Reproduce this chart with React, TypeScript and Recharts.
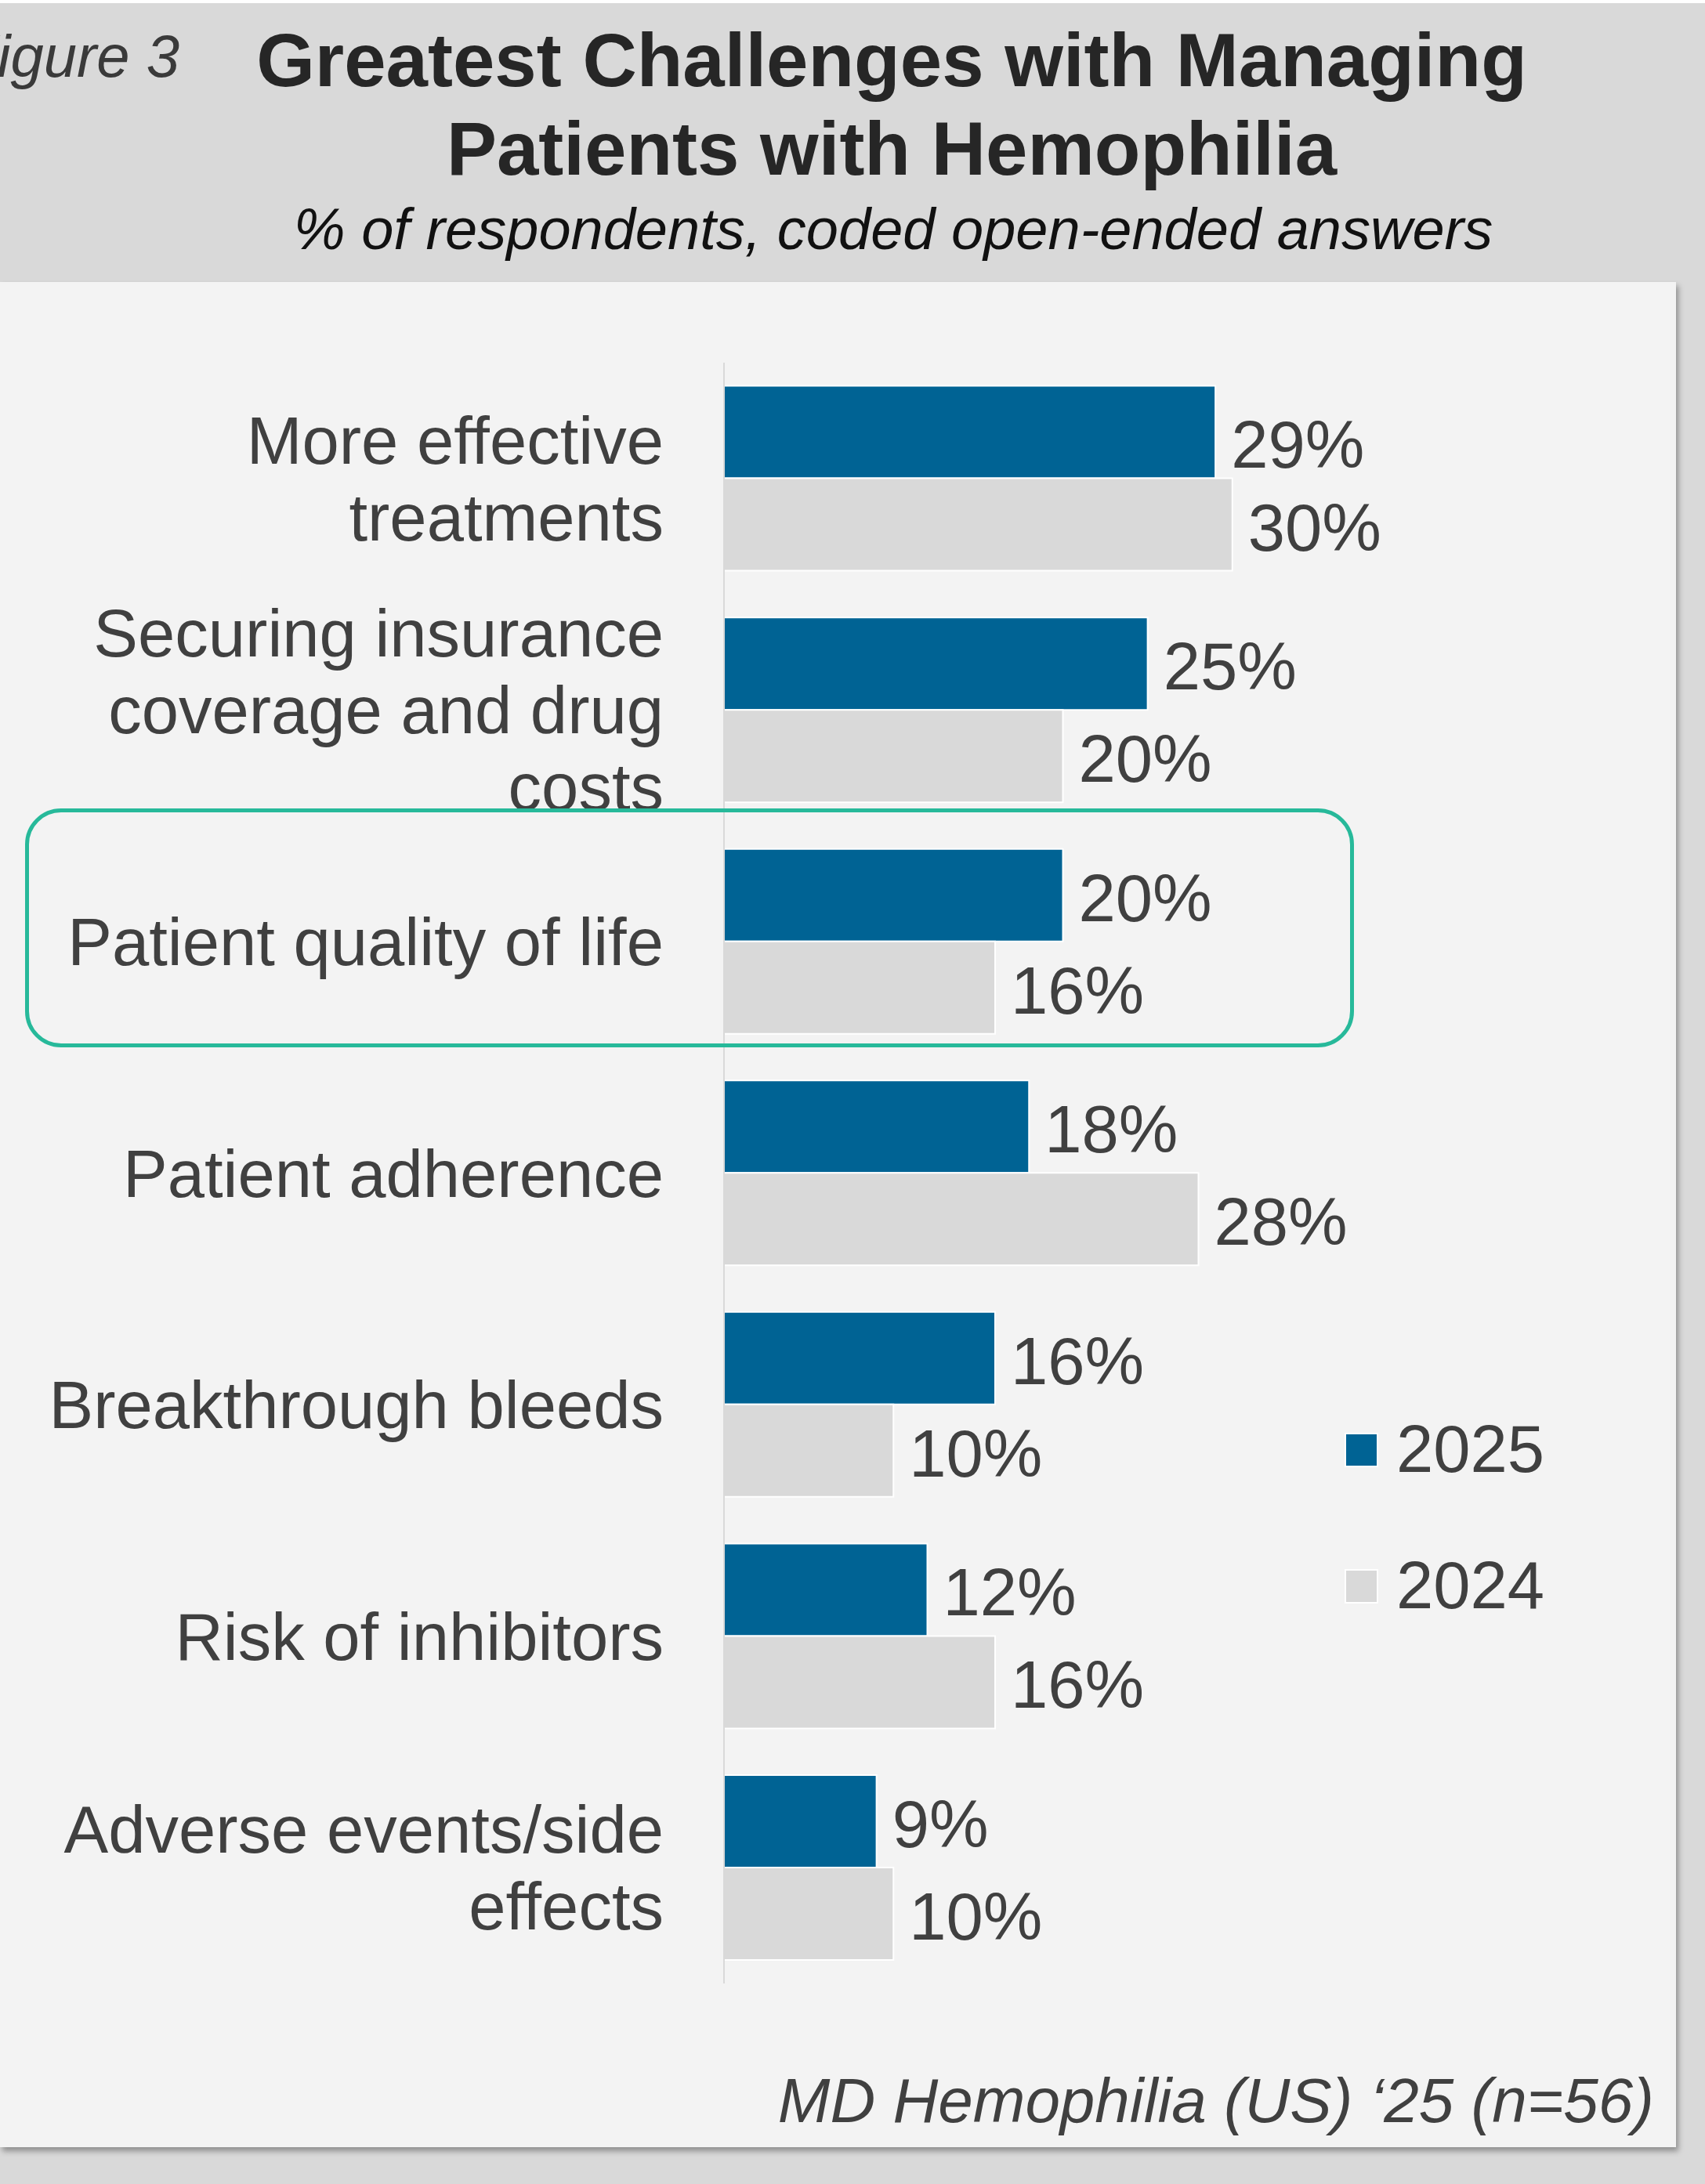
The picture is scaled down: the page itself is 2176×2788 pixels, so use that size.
import React from 'react';
import { BarChart, Bar, XAxis, YAxis, LabelList, Legend } from 'recharts';

const categories = [
  'More effective\ntreatments',
  'Securing insurance\ncoverage and drug\ncosts',
  'Patient quality of life',
  'Patient adherence',
  'Breakthrough bleeds',
  'Risk of inhibitors',
  'Adverse events/side\neffects',
];
const values2025 = [29, 25, 20, 18, 16, 12, 9];
const values2024 = [30, 20, 16, 28, 10, 16, 10];
const seriesNames = ['2025', '2024'];
const seriesColors = ['#006394', '#d9d9d9'];

const data = categories.map((c, i) => ({ name: c, v2025: values2025[i], v2024: values2024[i] }));

const FONT = '"Liberation Sans", Arial, Helvetica, sans-serif';
const TEXT = '#404040';
const FS = 85;

const renderTick = (props: any) => {
  const { y, payload } = props;
  const lines = String(payload.value).split('\n');
  const n = lines.length;
  return (
    <g>
      <text textAnchor="end" fontFamily={FONT} fontSize={FS} fill={TEXT}>
        {lines.map((l: string, i: number) => (
          <tspan key={i} x={847} y={y + (i - (n - 1) / 2) * 98 + 30}>
            {l}
          </tspan>
        ))}
      </text>
    </g>
  );
};

const makeLabel = (series: number) => (props: any) => {
  const vb = props.viewBox || props;
  const x = Number(vb.x ?? props.x);
  const y = Number(vb.y ?? props.y);
  const w = Number(vb.width ?? props.width);
  const h = Number(vb.height ?? props.height);
  const extra = series === 0 && props.index === 0 ? 12 : 0;
  return (
    <text
      x={x + w + 20}
      y={y + h / 2 + 3 + extra + 30}
      fontFamily={FONT}
      fontSize={FS}
      fill={TEXT}
      textAnchor="start"
    >
      {`${props.value}%`}
    </text>
  );
};

const renderLegend = () => {
  return (
    <svg width={450} height={320}>
      {seriesNames.map((s, i) => (
        <g key={s}>
          <rect x={17} y={40 + i * 174} width={41} height={42} fill={seriesColors[i]} stroke="#ffffff" strokeWidth={2} />
          <text x={82} y={89 + i * 174} fontFamily={FONT} fontSize={FS} fill={TEXT}>
            {s}
          </text>
        </g>
      ))}
    </svg>
  );
};

export default function App() {
  return (
    <div style={{ position: 'absolute', left: 0, top: 0, width: 2176, height: 2788, background: '#d9d9d9', overflow: 'hidden' }}>
      <div style={{ position: 'absolute', left: 0, top: 0, width: 2176, height: 4, background: '#ffffff' }} />
      <svg width={2176} height={360} style={{ position: 'absolute', left: 0, top: 0 }}>
        <text x={229} y={98} textAnchor="end" fontFamily={FONT} fontStyle="italic" fontSize={76} fill="#3a3a3a">
          Figure 3
        </text>
        <text x={1138} y={110} textAnchor="middle" fontFamily={FONT} fontWeight="bold" fontSize={96} fill="#262626">
          Greatest Challenges with Managing
        </text>
        <text x={1138} y={223} textAnchor="middle" fontFamily={FONT} fontWeight="bold" fontSize={96} fill="#262626">
          Patients with Hemophilia
        </text>
        <text x={1140} y={318} textAnchor="middle" fontFamily={FONT} fontStyle="italic" fontSize={74} fill="#111111">
          % of respondents, coded open-ended answers
        </text>
      </svg>
      <div
        style={{
          position: 'absolute',
          left: 0,
          top: 360,
          width: 2139,
          height: 2381,
          background: '#f3f3f3',
          boxShadow: '3px 5px 7px rgba(0,0,0,0.35)',
        }}
      />
      <div style={{ position: 'absolute', left: 0, top: 0 }}>
        <BarChart
          width={2176}
          height={2788}
          data={data}
          layout="vertical"
          margin={{ top: 463, right: 387, bottom: 256, left: 0 }}
          barCategoryGap="10%"
          barGap={0}
        >
          <XAxis type="number" domain={[0, 40]} hide />
          <YAxis
            type="category"
            dataKey="name"
            width={924}
            tick={renderTick}
            tickLine={false}
            axisLine={{ stroke: '#d9d9d9', strokeWidth: 2 }}
            interval={0}
          />
          <Legend
            layout="vertical"
            align="center"
            verticalAlign="middle"
            wrapperStyle={{ position: 'absolute', left: 1700, top: 1790, width: 450, height: 320 }}
            content={renderLegend}
          />
          <Bar dataKey="v2025" name={seriesNames[0]} fill={seriesColors[0]} stroke="#ffffff" strokeWidth={2} isAnimationActive={false}>
            <LabelList dataKey="v2025" content={makeLabel(0)} />
          </Bar>
          <Bar dataKey="v2024" name={seriesNames[1]} fill={seriesColors[1]} stroke="#ffffff" strokeWidth={2} isAnimationActive={false}>
            <LabelList dataKey="v2024" content={makeLabel(1)} />
          </Bar>
        </BarChart>
      </div>
      <div
        style={{
          position: 'absolute',
          left: 32,
          top: 1032,
          width: 1696,
          height: 305,
          border: '5px solid #27b99a',
          borderRadius: 46,
          boxSizing: 'border-box',
          pointerEvents: 'none',
        }}
      />
      <svg width={2176} height={120} style={{ position: 'absolute', left: 0, top: 2620 }}>
        <text x={2111} y={89} textAnchor="end" fontFamily={FONT} fontStyle="italic" fontSize={80} fill={TEXT}>
          MD Hemophilia (US) ‘25 (n=56)
        </text>
      </svg>
    </div>
  );
}
